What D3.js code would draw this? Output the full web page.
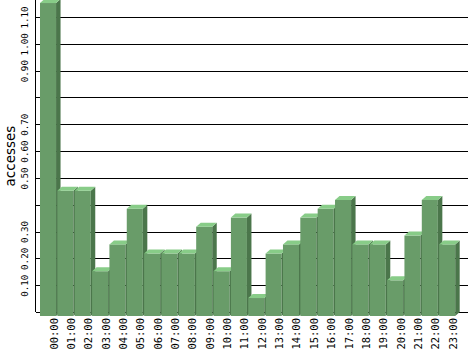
<!DOCTYPE html>
<html>
<head>
<meta charset="utf-8">
<script src="https://cdn.jsdelivr.net/npm/d3@7"></script>
<style>
  body { margin: 0; background: #fff; }
  svg { display: block; }
</style>
</head>
<body>
<div class="page"></div>
<script>
var hours = ['00:00','01:00','02:00','03:00','04:00','05:00','06:00','07:00','08:00','09:00','10:00','11:00',
             '12:00','13:00','14:00','15:00','16:00','17:00','18:00','19:00','20:00','21:00','22:00','23:00'];
var accesses = [1.167, 0.467, 0.467, 0.167, 0.267, 0.400, 0.233, 0.233, 0.233, 0.333, 0.167, 0.367,
                0.067, 0.233, 0.267, 0.367, 0.400, 0.433, 0.267, 0.267, 0.133, 0.300, 0.433, 0.267];
var yTicks = [0, 0.1, 0.2, 0.3, 0.4, 0.5, 0.6, 0.7, 0.8, 0.9, 1.0, 1.1];
var yTickLabels = {0.1:'0.10', 0.2:'0.20', 0.3:'0.30', 0.5:'0.50', 0.6:'0.60', 0.7:'0.70',
                   0.9:'0.90', 1.0:'1.00', 1.1:'1.10'};

var W = 468, H = 351,
    axisX = 35.5, baseY = 312,
    dx = 4.5, dy = 4;

var yScale = d3.scaleLinear().domain([0, 1.1]).range([baseY, 17]);
var xScale = d3.scaleBand().domain(hours)
  .range([44.5, 44.5 + 24 * 17.3])
  .paddingInner(0.075);
var bw = xScale.bandwidth();

var svg = d3.select('.page').append('svg')
  .attr('width', W)
  .attr('height', H);

// grid + y axis
var yAxis = d3.axisLeft(yScale)
  .tickValues(yTicks)
  .tickSize(-(W - axisX))
  .tickFormat(function(d) { return yTickLabels[Math.round(d * 10) / 10] || ''; });

var gy = svg.append('g')
  .attr('transform', 'translate(' + axisX + ',0)')
  .call(yAxis);
gy.select('.domain').remove();
gy.selectAll('line')
  .attr('stroke', '#000')
  .attr('shape-rendering', 'crispEdges');
gy.selectAll('text')
  .attr('x', null)
  .attr('dy', null)
  .attr('transform', 'translate(-11.5,0) rotate(-90)')
  .attr('text-anchor', 'middle')
  .attr('dominant-baseline', 'central')
  .attr('fill', '#000')
  .style('font-family', 'DejaVu Sans Mono')
  .style('font-size', '9.2px');

svg.append('line')
  .attr('x1', axisX).attr('x2', axisX)
  .attr('y1', 0).attr('y2', baseY)
  .attr('stroke', '#000')
  .attr('shape-rendering', 'crispEdges');

svg.append('text')
  .text('accesses')
  .attr('transform', 'translate(9.5,156) rotate(-90)')
  .attr('text-anchor', 'middle')
  .attr('dominant-baseline', 'central')
  .style('font-family', 'DejaVu Sans')
  .style('font-size', '13.5px');

// 3d bars
var bars = svg.selectAll('g.bar').data(accesses)
  .enter()
  .append('g')
  .attr('class', 'bar');

function fx(i) { return xScale(hours[i]) - dx; }
function fy(d) { return yScale(d) + dy; }
function fh(d) { return yScale(0) - yScale(d); }

bars.append('rect')
  .attr('x', function(d, i) { return fx(i); })
  .attr('y', function(d) { return fy(d); })
  .attr('width', bw)
  .attr('height', function(d) { return fh(d); })
  .attr('fill', '#699c69');

bars.append('path')
  .attr('d', function(d, i) {
    var x = fx(i) + bw, y = fy(d), h = fh(d);
    return 'M' + x + ',' + y + 'L' + (x + dx) + ',' + (y - dy) + 'L' + (x + dx) + ',' + (y - dy + h) + 'L' + x + ',' + (y + h) + 'Z';
  })
  .attr('fill', '#4b764b');

bars.append('path')
  .attr('d', function(d, i) {
    var x = fx(i), y = fy(d);
    return 'M' + x + ',' + y + 'L' + (x + dx) + ',' + (y - dy) + 'L' + (x + bw + dx) + ',' + (y - dy) + 'L' + (x + bw) + ',' + y + 'Z';
  })
  .attr('fill', '#88cc88');

// x labels
svg.selectAll('text.xl').data(hours)
  .enter()
  .append('text')
  .attr('class', 'xl')
  .text(function(d) { return d; })
  .attr('transform', function(d) {
    return 'translate(' + (xScale(d) + bw / 2 + 1) + ',318) rotate(-90)';
  })
  .attr('text-anchor', 'end')
  .attr('dominant-baseline', 'central')
  .style('font-family', 'DejaVu Sans Mono')
  .style('font-size', '10.5px');
</script>
</body>
</html>
